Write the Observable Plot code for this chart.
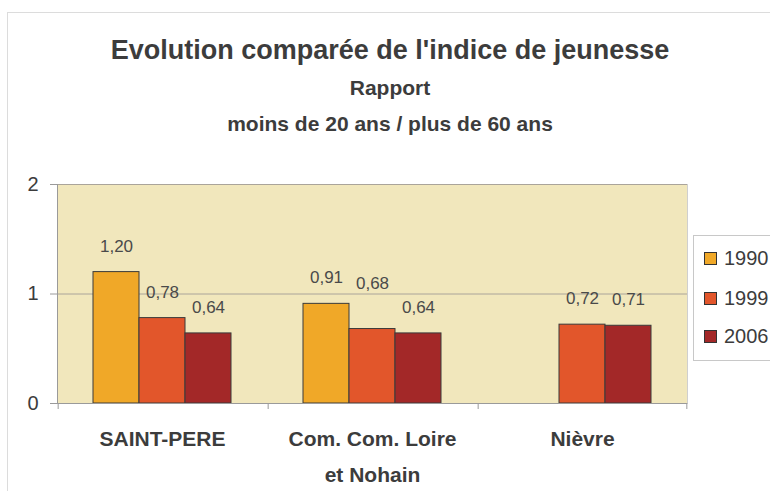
<!DOCTYPE html>
<html>
<head>
<meta charset="utf-8">
<script src="https://cdn.jsdelivr.net/npm/d3@7"></script>
<script src="https://cdn.jsdelivr.net/npm/@observablehq/plot@0.6"></script>
<style>
  html, body { margin: 0; padding: 0; background: #fff; }
  #wrap { position: relative; width: 770px; height: 491px; overflow: hidden; background: #fff;
          font-family: "Liberation Sans", Arial, sans-serif; color: #3c3c3c; }
  #frame { position: absolute; left: 7px; top: 12px; width: 820px; height: 540px; border: 1px solid #dcdcdc; }
  .ttl { position: absolute; left: 390px; transform: translate(-50%, -50%); white-space: nowrap; font-weight: bold; color: #3c3c3c; }
  #chart { position: absolute; left: 0; top: 160px; }
  #legend { position: absolute; left: 693px; top: 235px; width: 100px; height: 124px; border: 1px solid #c8c8c8; background: #fff; }
  .item { position: absolute; left: 10px; height: 24px; display: flex; align-items: center; transform: translateY(-50%); }
  .sw { width: 11px; height: 11px; border: 1px solid #333; margin-right: 7px; }
  .lbl { font-size: 20px; color: #3c3c3c; }
</style>
</head>
<body>
<div id="wrap">
  <div id="frame"></div>
  <div class="ttl" style="top:50px;font-size:27px;">Evolution comparée de l'indice de jeunesse</div>
  <div class="ttl" style="top:88px;font-size:21px;">Rapport</div>
  <div class="ttl" style="top:124px;font-size:21px;">moins de 20 ans / plus de 60 ans</div>
  <div id="chart"></div>
  <div id="legend"></div>
</div>
<script>
// ---- data ----
const groups = ["SAINT-PERE", "Com. Com. Loire et Nohain", "Nièvre"];
const groupLabels = ["SAINT-PERE", "Com. Com. Loire\net Nohain", "Nièvre"];
const years = ["1990", "1999", "2006"];
const values1990 = [1.20, 0.91, null];
const values1999 = [0.78, 0.68, 0.72];
const values2006 = [0.64, 0.64, 0.71];
const colors = ["#F0A828", "#E2562B", "#A32828"];
const yTicks = [0, 1, 2];

const series = [values1990, values1999, values2006];
const rows = groups.flatMap((g, i) =>
  years.map((y, j) => ({group: g, year: y, value: series[j][i]}))
).filter(d => d.value != null);

const fmt = v => v.toFixed(2).replace(".", ",");
const raised = d => d.group === groups[1] && d.year === "1999";
const plotH = 331 - 24 - 88;

const chart = Plot.plot({
  width: 700,
  height: 331,
  marginLeft: 57,
  marginRight: 13,
  marginTop: 24,
  marginBottom: 88,
  style: {background: "transparent", fontFamily: "Liberation Sans, Arial, sans-serif", color: "#3c3c3c", overflow: "visible"},
  fx: {domain: groups, padding: 0, label: null},
  x: {domain: years, paddingInner: 0, paddingOuter: 0.75, axis: null},
  y: {domain: [0, 2], axis: null},
  color: {domain: years, range: colors},
  marks: [
    Plot.frame({fill: "#F1E7BC", stroke: null, facet: "super"}),
    Plot.ruleY([1, 2], {stroke: "#aaa49a", strokeWidth: 1}),
    Plot.frame({anchor: "right", stroke: "#cfcfcf", facet: "super"}),
    Plot.frame({anchor: "left", stroke: "#9a9a9a", facet: "super"}),
    // small boundary ticks under the axis, at each group's edges
    Plot.ruleX(groups, {fx: d => d, x: () => years[0], dx: -58.33, insetTop: plotH, insetBottom: -6, stroke: "#9a9a9a"}),
    Plot.ruleX(groups.slice(-1), {fx: d => d, x: () => years[2], dx: 58.33, insetTop: plotH, insetBottom: -6, stroke: "#9a9a9a"}),
    Plot.barY(rows, {fx: "group", x: "year", y: "value", fill: "year", stroke: "#3a3a3a", strokeWidth: 1}),
    Plot.ruleY([0], {stroke: "#9a9a9a"}),
    Plot.text(rows.filter(d => !raised(d)), {fx: "group", x: "year", y: "value", text: d => fmt(d.value), dy: -26, fontSize: 17, fill: "#4a4a4a"}),
    Plot.text(rows.filter(raised), {fx: "group", x: "year", y: "value", text: d => fmt(d.value), dy: -45, fontSize: 17, fill: "#4a4a4a"}),
    Plot.axisY({ticks: yTicks, tickSize: 7, text: null, stroke: "#9a9a9a", label: null}),
    Plot.axisY({ticks: yTicks, tickSize: 0, tickPadding: 19, fontSize: 20, fill: "#3c3c3c", label: null, tickFormat: d => String(d)}),
    Plot.axisFx({anchor: "bottom", tickSize: 0, tickPadding: 17, fontSize: 21, fontWeight: "bold", fill: "#3c3c3c",
                 lineHeight: 1.71, label: null, tickFormat: d => groupLabels[groups.indexOf(d)]})
  ]
});
document.getElementById("chart").appendChild(chart);

// legend
const legend = document.getElementById("legend");
const rowTops = [22, 62, 100];
years.forEach((y, j) => {
  const it = document.createElement("div");
  it.className = "item";
  it.style.top = rowTops[j] + "px";
  it.innerHTML = `<div class="sw" style="background:${colors[j]}"></div><span class="lbl">${y}</span>`;
  legend.appendChild(it);
});
</script>
</body>
</html>
